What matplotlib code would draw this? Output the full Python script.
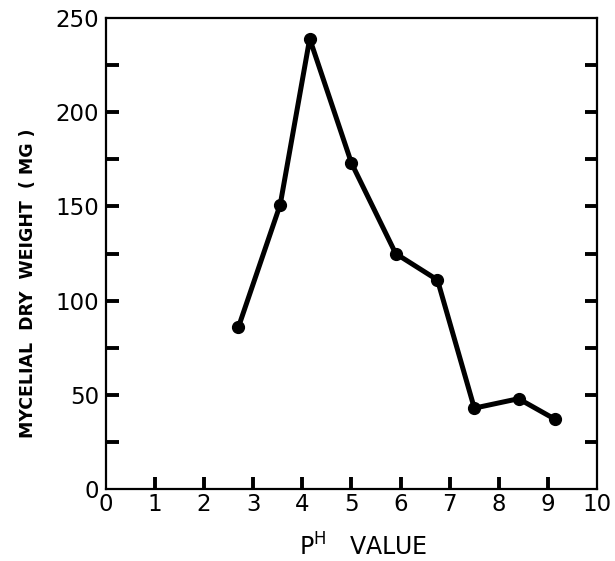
import matplotlib
matplotlib.use("Agg")
import matplotlib.pyplot as plt
import numpy as np

# pH vs mycelial dry weight (mg)
ph = [2.7, 3.55, 4.15, 5.0, 5.9, 6.75, 7.5, 8.4, 9.15]
dry_weight = [86, 151, 239, 173, 125, 111, 43, 48, 37]

x_ticks = list(range(0, 11))
y_ticks = [0, 50, 100, 150, 200, 250]
y_minor = [25, 75, 125, 175, 225]

plt.rcParams['font.family'] = ['DejaVu Sans']

fig = plt.figure(figsize=(6.15, 5.61), dpi=100)
ax = fig.add_axes([0.172, 0.128, 0.799, 0.840])

ax.plot(ph, dry_weight, color='black', linewidth=3.6, marker='o',
        markersize=8.5, solid_joinstyle='round')

ax.set_xlim(0, 10)
ax.set_ylim(0, 250)
ax.set_xticks(x_ticks)
ax.set_yticks(y_ticks)
ax.set_yticks(y_minor, minor=True)

for s in ax.spines.values():
    s.set_linewidth(1.6)

ax.tick_params(axis='both', which='both', direction='in', width=2.8,
               length=9, labelsize=16.5)
ax.tick_params(axis='y', which='both', right=True)
ax.tick_params(axis='x', pad=3)
ax.tick_params(axis='y', pad=5)

# no tick marks drawn right on the corners
xt = ax.xaxis.get_major_ticks()
xt[0].tick1line.set_visible(False)
xt[-1].tick1line.set_visible(False)
yt = ax.yaxis.get_major_ticks()
yt[0].tick1line.set_visible(False)
yt[0].tick2line.set_visible(False)
yt[-1].tick1line.set_visible(False)
yt[-1].tick2line.set_visible(False)

fig.text(0.045, 0.495, 'MYCELIAL  DRY  WEIGHT  ( MG )', rotation=90,
         ha='center', va='center', fontsize=12.5, fontweight='bold')
fig.text(0.59, 0.025, r'$\mathrm{P}^{\mathrm{H}}$   VALUE', ha='center',
         va='center', fontsize=17)

fig.savefig('out.png', dpi=100)
